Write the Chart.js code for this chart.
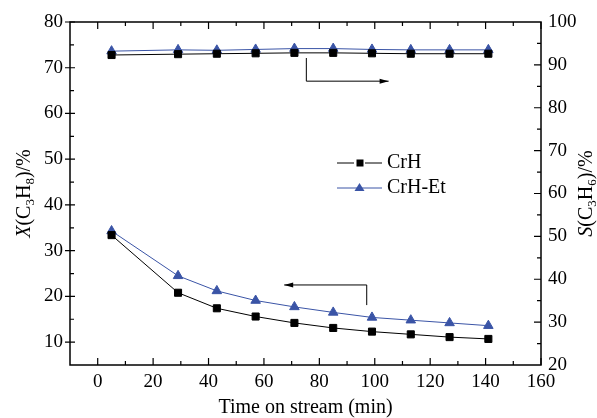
<!DOCTYPE html>
<html>
<head>
<meta charset="utf-8">
<script src="https://cdn.jsdelivr.net/npm/chart.js@4/dist/chart.umd.min.js"></script>
<style>
  html, body { margin: 0; padding: 0; background: #fff; }
  #wrap { width: 597px; height: 418px; }
</style>
</head>
<body>
<div id="wrap"><canvas id="chart"></canvas></div>
<script>
// time on stream (min)
const times = [5, 29, 43, 57, 71, 85, 99, 113, 127, 141];
const seriesNames = ['CrH', 'CrH-Et'];
// propane conversion X(C3H8) / %  (left axis)
const convCrH   = [33.4, 20.8, 17.4, 15.6, 14.2, 13.1, 12.3, 11.7, 11.1, 10.7];
const convCrHEt = [34.3, 24.5, 21.2, 19.1, 17.7, 16.5, 15.4, 14.8, 14.2, 13.6];
// propylene selectivity S(C3H6) / %  (right axis)
const selCrH    = [92.3, 92.5, 92.6, 92.7, 92.8, 92.8, 92.7, 92.6, 92.6, 92.6];
const selCrHEt  = [93.2, 93.5, 93.4, 93.6, 93.8, 93.8, 93.6, 93.5, 93.5, 93.5];
// tick labels
const xTicks  = [0, 20, 40, 60, 80, 100, 120, 140, 160];
const yTicks  = [10, 20, 30, 40, 50, 60, 70, 80];
const y1Ticks = [20, 30, 40, 50, 60, 70, 80, 90, 100];

const FONT = 'Liberation Serif';
const BLUE = '#3a54a6';

const pts = (ys) => times.map((t, i) => ({ x: t, y: ys[i] }));

function fixTicks(list) {
  return (scale) => { scale.ticks = list.map(v => ({ value: v })); };
}

// arrows pointing at the axis each group belongs to (data units)
const arrows = [
  { axis: 'y1', x0: 75.3, y0: 91.6, y1: 86.2, x1: 105 },
  { axis: 'y',  x0: 97.1, y0: 18.1, y1: 22.5, x1: 67.3 }
];

function drawRich(ctx, parts, size) {
  let w = 0;
  parts.forEach(p => {
    ctx.font = (p.it ? 'italic ' : '') + (p.sub ? size * 0.65 : size) + 'px "' + FONT + '"';
    p.w = ctx.measureText(p.t).width;
    w += p.w;
  });
  let x = -w / 2;
  parts.forEach(p => {
    ctx.font = (p.it ? 'italic ' : '') + (p.sub ? size * 0.65 : size) + 'px "' + FONT + '"';
    ctx.fillText(p.t, x, p.sub ? size * 0.3 : 0);
    x += p.w;
  });
}

const decor = {
  id: 'decor',
  afterDraw(chart) {
    const { ctx, chartArea: a, scales } = chart;
    const sx = scales.x, sy = scales.y, sy1 = scales.y1;
    ctx.save();
    ctx.strokeStyle = '#000';
    ctx.fillStyle = '#000';
    ctx.lineWidth = 1.5;
    ctx.strokeRect(a.left, a.top, a.right - a.left, a.bottom - a.top);

    ctx.lineWidth = 1.2;
    ctx.beginPath();
    for (let v = 0; v <= 160; v += 10) {
      const px = sx.getPixelForValue(v);
      const len = v % 20 === 0 ? 7 : 4;
      ctx.moveTo(px, a.bottom); ctx.lineTo(px, a.bottom - len);
      ctx.moveTo(px, a.top); ctx.lineTo(px, a.top + len);
    }
    for (let v = 10; v <= 80; v += 5) {
      const py = sy.getPixelForValue(v);
      if (v % 10 === 0) { ctx.moveTo(a.left - 5, py); ctx.lineTo(a.left + 5, py); }
      else { ctx.moveTo(a.left, py); ctx.lineTo(a.left + 4, py); }
    }
    for (let v = 25; v <= 95; v += 5) {
      const py = sy1.getPixelForValue(v);
      const len = v % 10 === 0 ? 7 : 4;
      ctx.moveTo(a.right, py); ctx.lineTo(a.right - len, py);
    }
    ctx.stroke();

    // arrows
    ctx.lineWidth = 1;
    arrows.forEach(ar => {
      const ys = scales[ar.axis];
      const x0 = sx.getPixelForValue(ar.x0), x1 = sx.getPixelForValue(ar.x1);
      const ya = ys.getPixelForValue(ar.y0), yb = ys.getPixelForValue(ar.y1);
      ctx.beginPath();
      ctx.moveTo(x0, ya); ctx.lineTo(x0, yb); ctx.lineTo(x1, yb);
      ctx.stroke();
      const d = x1 > x0 ? -1 : 1;
      ctx.beginPath();
      ctx.moveTo(x1, yb);
      ctx.lineTo(x1 + d * 9, yb - 2.5);
      ctx.lineTo(x1 + d * 9, yb + 2.5);
      ctx.closePath();
      ctx.fill();
    });

    // legend
    const legY = [163, 188];
    const styles = [
      { color: '#000', shape: 'sq' },
      { color: BLUE, shape: 'tri' }
    ];
    seriesNames.forEach((name, i) => {
      const y = legY[i], s = styles[i];
      ctx.strokeStyle = s.color; ctx.fillStyle = s.color; ctx.lineWidth = 1;
      if (s.shape === 'sq') {
        ctx.beginPath();
        ctx.moveTo(337, y); ctx.lineTo(354, y);
        ctx.moveTo(365, y); ctx.lineTo(382, y);
        ctx.stroke();
        ctx.fillRect(356.5, y - 3.5, 7, 7);
      } else {
        ctx.beginPath(); ctx.moveTo(337, y); ctx.lineTo(382, y); ctx.stroke();
        ctx.beginPath();
        ctx.moveTo(359.5, y - 5); ctx.lineTo(364.5, y + 3); ctx.lineTo(354.5, y + 3);
        ctx.closePath(); ctx.fill();
      }
      ctx.fillStyle = '#000';
      ctx.font = '20px "' + FONT + '"';
      ctx.textBaseline = 'middle';
      ctx.textAlign = 'left';
      ctx.fillText(name, 387, y);
    });

    // axis titles
    ctx.fillStyle = '#000';
    ctx.textBaseline = 'middle';
    ctx.font = '20px "' + FONT + '"';
    ctx.textAlign = 'center';
    ctx.fillText('Time on stream (min)', (a.left + a.right) / 2, 408);
    ctx.textAlign = 'left';
    const midY = (a.top + a.bottom) / 2;
    ctx.save();
    ctx.translate(25, midY);
    ctx.rotate(-Math.PI / 2);
    drawRich(ctx, [{ t: 'X', it: true }, { t: '(C' }, { t: '3', sub: true }, { t: 'H' }, { t: '8', sub: true }, { t: ')/%' }], 20);
    ctx.restore();
    ctx.save();
    ctx.translate(587, midY);
    ctx.rotate(-Math.PI / 2);
    drawRich(ctx, [{ t: 'S', it: true }, { t: '(C' }, { t: '3', sub: true }, { t: 'H' }, { t: '6', sub: true }, { t: ')/%' }], 20);
    ctx.restore();
    ctx.restore();
  }
};

const tickFont = { family: FONT, size: 19 };

new Chart(document.getElementById('chart'), {
  type: 'line',
  data: {
    datasets: [
      { label: seriesNames[0], data: pts(convCrH), yAxisID: 'y', borderColor: '#000', backgroundColor: '#000',
        pointStyle: 'rect', pointRadius: 5, borderWidth: 1 },
      { label: seriesNames[1], data: pts(convCrHEt), yAxisID: 'y', borderColor: BLUE, backgroundColor: BLUE,
        pointStyle: 'triangle', pointRadius: 5.5, borderWidth: 1 },
      { label: seriesNames[0], data: pts(selCrH), yAxisID: 'y1', borderColor: '#000', backgroundColor: '#000',
        pointStyle: 'rect', pointRadius: 5, borderWidth: 1 },
      { label: seriesNames[1], data: pts(selCrHEt), yAxisID: 'y1', borderColor: BLUE, backgroundColor: BLUE,
        pointStyle: 'triangle', pointRadius: 5.5, borderWidth: 1 }
    ]
  },
  options: {
    responsive: true,
    maintainAspectRatio: false,
    animation: false,
    layout: { padding: { top: 22, left: 0, right: 0, bottom: 0 } },
    plugins: { legend: { display: false }, tooltip: { enabled: false } },
    elements: { point: { borderWidth: 0 }, line: { tension: 0 } },
    scales: {
      x: {
        type: 'linear', min: -10, max: 160,
        afterBuildTicks: fixTicks(xTicks),
        afterFit: (s) => { s.height = 53; },
        grid: { display: false, drawTicks: false }, border: { display: false },
        ticks: { font: tickFont, color: '#000', padding: 6, maxRotation: 0 }
      },
      y: {
        position: 'left', min: 5, max: 80,
        afterBuildTicks: fixTicks(yTicks),
        afterFit: (s) => { s.width = 70; },
        grid: { display: false, drawTicks: false }, border: { display: false },
        ticks: { font: tickFont, color: '#000', padding: 7 }
      },
      y1: {
        position: 'right', min: 20, max: 100,
        afterBuildTicks: fixTicks(y1Ticks),
        afterFit: (s) => { s.width = 56; },
        grid: { display: false, drawTicks: false }, border: { display: false },
        ticks: { font: tickFont, color: '#000', padding: 7 }
      }
    }
  },
  plugins: [decor]
});
</script>
</body>
</html>
